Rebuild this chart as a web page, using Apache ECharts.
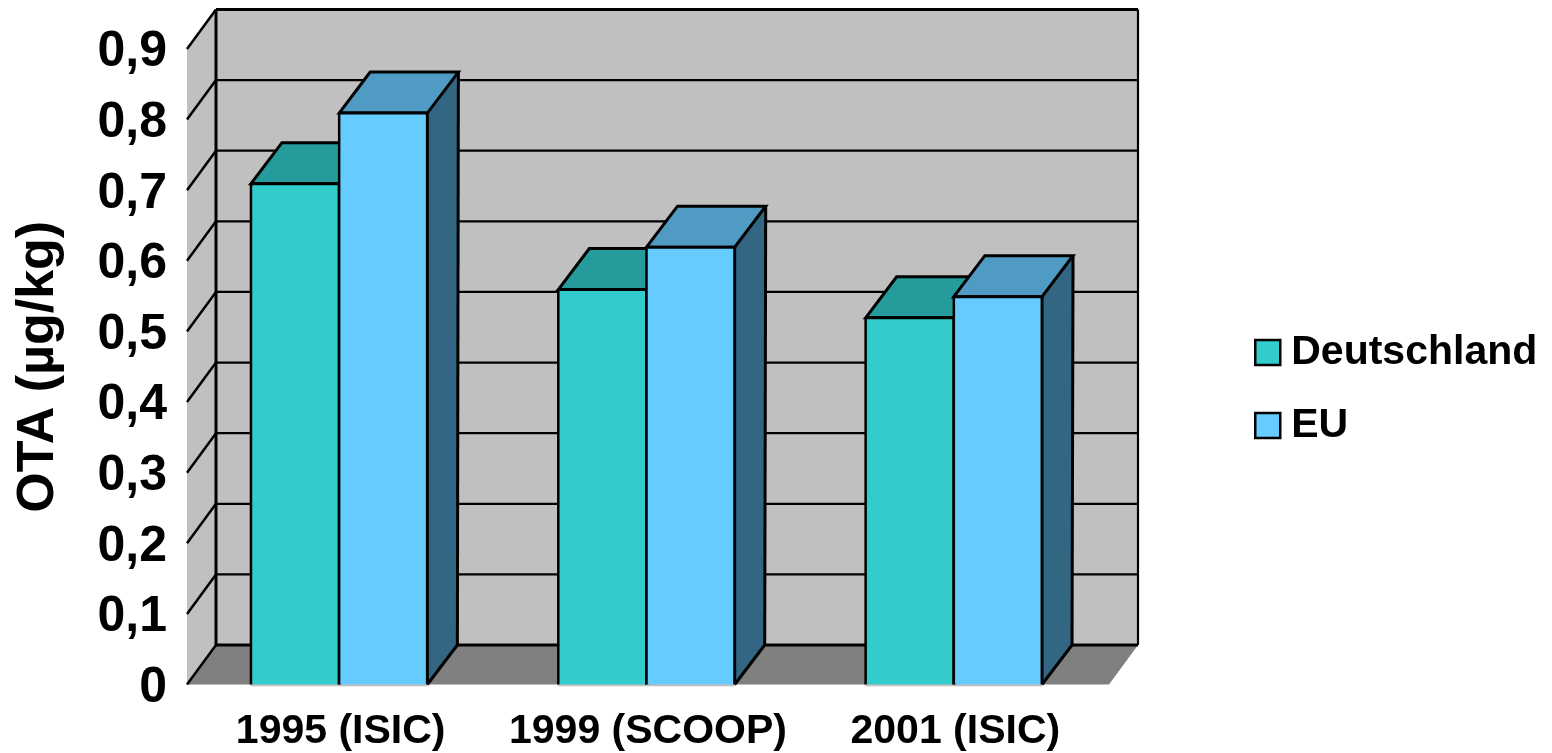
<!DOCTYPE html>
<html>
<head>
<meta charset="utf-8">
<style>html,body{margin:0;padding:0;background:#fff}#c{width:1552px;height:753px}</style>
<script src="https://cdn.jsdelivr.net/npm/echarts@6/dist/echarts.min.js"></script>
</head>
<body>
<div id="c"></div>
<script>
const categories = ['1995 (ISIC)', '1999 (SCOOP)', '2001 (ISIC)'];
const deutschland = [0.71, 0.56, 0.52];
const eu = [0.81, 0.62, 0.55];
const yTicks = [0, 0.1, 0.2, 0.3, 0.4, 0.5, 0.6, 0.7, 0.8, 0.9];
const yTickLabels = ['0', '0,1', '0,2', '0,3', '0,4', '0,5', '0,6', '0,7', '0,8', '0,9'];

const FONT = '"Liberation Sans", Arial, sans-serif';
const DX = 29, DY = 39.5;

function poly(points, fill, stroke, lw) {
  return {
    type: 'polygon',
    shape: { points: points },
    style: { fill: fill, stroke: stroke || null, lineWidth: lw || 0, lineJoin: 'miter' }
  };
}
function line(x1, y1, x2, y2, stroke, lw) {
  return {
    type: 'line',
    shape: { x1: x1, y1: y1, x2: x2, y2: y2 },
    style: { stroke: stroke, lineWidth: lw }
  };
}

function renderWalls(params, api) {
  const g = params.coordSys;
  const v = api.value(0);
  const y = api.coord([0, v])[1];
  const L = g.x, R = g.x + g.width;
  const kids = [];
  if (params.dataIndex === 0) {
    const yTop = api.coord([0, yTicks[yTicks.length - 1]])[1];
    kids.push(poly([[L, y], [L + DX, y - DY], [L + DX, yTop - DY], [L, yTop]], '#C0C0C0'));
    kids.push(poly([[L + DX, y - DY], [R + DX, y - DY], [R + DX, yTop - DY], [L + DX, yTop - DY]], '#C0C0C0'));
    kids.push(poly([[L, y], [L + DX, y - DY], [R + DX, y - DY], [R, y]], '#808080'));
  }
  const bottom = params.dataIndex === 0;
  const top = params.dataIndex === yTicks.length - 1;
  kids.push(line(L + DX, y - DY, R + DX, y - DY, '#000', top || bottom ? 3 : 2.2));
  kids.push(line(L, y, L + DX, y - DY, '#000', 2.5));
  if (top) {
    const y0 = api.coord([0, 0])[1];
    kids.push(line(L + DX, y - DY, L + DX, y0 - DY, '#000', 3));
    kids.push(line(R + DX, y - DY, R + DX, y0 - DY, '#000', 2.2));
  }
  return { type: 'group', children: kids };
}

function barRenderer(sign, front, topCol, sideCol) {
  return function (params, api) {
    const c = api.coord([api.value(0), api.value(1)]);
    const base = api.coord([api.value(0), 0])[1];
    const w = api.size([1, 0])[0] * 0.287;
    const x0 = c[0] - 1.5 + (sign < 0 ? -w : 0);
    const x1 = x0 + w;
    const y = c[1] + 0.5;
    const tx = 31, ty = 41;
    return {
      type: 'group',
      children: [
        poly([[x1, y], [x1 + tx, y - ty], [x1 + DX + 1, base - DY], [x1, base]], sideCol),
        poly([[x0, y], [x0 + tx, y - ty], [x1 + tx, y - ty], [x1, y]], topCol, '#000', 3),
        line(x1 + tx, y - ty, x1 + DX + 1, base - DY, '#000', 3),
        line(x1, base, x1 + DX + 1, base - DY, '#000', 3),
        { type: 'rect', shape: { x: x0, y: y, width: w, height: base - y },
          style: { fill: front } },
        line(x0, y, x1, y, '#000', 3),
        line(x0, y, x0, base, '#000', 2.5),
        line(x1, y, x1, base, '#000', 3),
        line(x0, base + 1, x1, base + 1, '#C0C0C0', 1.5)
      ]
    };
  };
}

const chart = echarts.init(document.getElementById('c'));
chart.setOption({
  animation: false,
  backgroundColor: '#fff',
  grid: { left: 187, top: 49, width: 922, height: 635.5, outerBoundsMode: 'none' },
  legend: {
    orient: 'vertical',
    left: 1254,
    top: 332,
    padding: 0,
    icon: 'rect',
    itemWidth: 25,
    itemHeight: 25,
    itemGap: 32,
    data: ['Deutschland', 'EU'],
    selectedMode: false,
    itemStyle: { borderColor: '#000', borderWidth: 2.5 },
    textStyle: { fontFamily: FONT, fontWeight: 'bold', fontSize: 41, color: '#000', padding: [0, 0, 0, 6] }
  },
  xAxis: {
    type: 'category',
    data: categories,
    axisLine: { show: false },
    axisTick: { show: false },
    axisLabel: { fontFamily: FONT, fontWeight: 'bold', fontSize: 41, color: '#000', margin: 27, interval: 0, hideOverlap: false }
  },
  yAxis: {
    type: 'value',
    min: 0,
    max: 0.9,
    interval: 0.1,
    name: 'OTA (µg/kg)',
    nameLocation: 'middle',
    nameRotate: 90,
    nameGap: 122,
    nameTextStyle: { fontFamily: FONT, fontWeight: 'bold', fontSize: 52, color: '#000' },
    axisLine: { show: false },
    axisTick: { show: false },
    splitLine: { show: false },
    axisLabel: {
      fontFamily: FONT, fontWeight: 'bold', fontSize: 50, color: '#000', margin: 20,
      verticalAlign: 'top',
      lineHeight: 7,
      formatter: function (v) { return yTickLabels[Math.round(v * 10)]; }
    }
  },
  series: [
    {
      type: 'custom', name: 'walls', silent: true, z: 1,
      data: yTicks.map(function (t) { return [t]; }),
      encode: { y: 0 },
      renderItem: renderWalls
    },
    {
      type: 'custom', name: 'Deutschland', z: 2,
      itemStyle: { color: '#33CCCC' },
      data: deutschland.map(function (v, i) { return [i, v]; }),
      encode: { x: 0, y: 1 },
      renderItem: barRenderer(-1, '#33CCCC', '#259B9B', '#1F7F7F')
    },
    {
      type: 'custom', name: 'EU', z: 3,
      itemStyle: { color: '#66CCFF' },
      data: eu.map(function (v, i) { return [i, v]; }),
      encode: { x: 0, y: 1 },
      renderItem: barRenderer(1, '#66CCFF', '#4F9BC3', '#336682')
    }
  ]
});
</script>
</body>
</html>
